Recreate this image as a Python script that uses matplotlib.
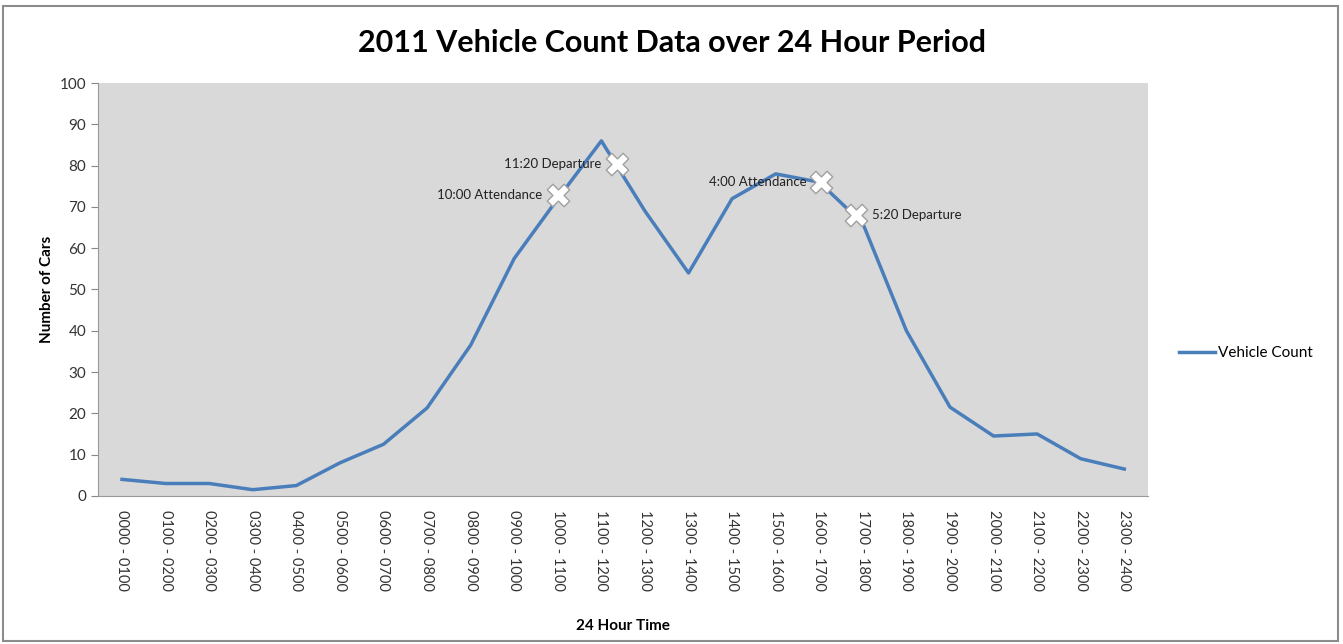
import numpy as np
import matplotlib.pyplot as plt
from matplotlib.patches import Rectangle
from matplotlib.lines import Line2D

plt.rcParams['font.family'] = ['Lato', 'DejaVu Sans']

# data
hours = ['0000 - 0100', '0100 - 0200', '0200 - 0300', '0300 - 0400', '0400 - 0500',
         '0500 - 0600', '0600 - 0700', '0700 - 0800', '0800 - 0900', '0900 - 1000',
         '1000 - 1100', '1100 - 1200', '1200 - 1300', '1300 - 1400', '1400 - 1500',
         '1500 - 1600', '1600 - 1700', '1700 - 1800', '1800 - 1900', '1900 - 2000',
         '2000 - 2100', '2100 - 2200', '2200 - 2300', '2300 - 2400']
counts = [4, 3, 3, 1.5, 2.5, 8, 12.5, 21.3, 36.5, 57.5,
          72, 86, 69, 54, 72, 78, 76, 66, 40, 21.5,
          14.5, 15, 9, 6.5]

# event markers (position in category units, value)
event_labels = ['10:00 Attendance', '11:20 Departure', '4:00 Attendance', '5:20 Departure']
event_x = [10, 11.35, 16.05, 16.85]
event_y = [73, 80.5, 76, 68]

fig = plt.figure(figsize=(13.43, 6.44), dpi=100)
fig.patches.append(Rectangle((0.002, 0.004), 0.994, 0.986, transform=fig.transFigure,
                             fill=False, edgecolor='#8c8c8c', linewidth=1.5))
ax = fig.add_axes([0.073, 0.23, 0.782, 0.641])
ax.set_facecolor('#d9d9d9')

x = np.arange(len(hours))
ax.plot(x, counts, color='#4a7ebb', linewidth=2.5)
ax.scatter(event_x, event_y, marker='X', s=260, facecolor='white',
           edgecolor='#a0a0a0', linewidth=1, zorder=3)
for lab, ex, ey in zip(event_labels, event_x, event_y):
    if lab.startswith('5:20'):
        ax.text(ex + 0.35, ey, lab, ha='left', va='center', fontsize=9.5, color='#222222')
    else:
        ax.text(ex - 0.35, ey, lab, ha='right', va='center', fontsize=9.5, color='#222222')

ax.set_xlim(-0.55, len(hours) - 0.45)
ax.set_ylim(0, 100)
ax.set_yticks(range(0, 101, 10))
ax.set_xticks(x)
ax.set_xticklabels(hours, rotation=270, fontsize=10.5, color='#333333')
ax.tick_params(axis='y', labelsize=11, colors='#333333', length=5, color='#888888')
ax.tick_params(axis='x', length=0, pad=10)
for s in ['top', 'right']:
    ax.spines[s].set_visible(False)
ax.spines['left'].set_color('#999999')
ax.spines['bottom'].set_color('#999999')

ax.set_xlabel('24 Hour Time', fontsize=11, fontweight='bold', labelpad=20)
ax.set_ylabel('Number of Cars', fontsize=11, fontweight='bold', labelpad=4)
fig.suptitle('2011 Vehicle Count Data over 24 Hour Period', fontsize=22, fontweight='bold',
             y=0.955)

handle = Line2D([], [], color='#4a7ebb', linewidth=2.5)
fig.legend([handle], ['Vehicle Count'], loc='center left', bbox_to_anchor=(0.868, 0.452),
           frameon=False, fontsize=11, handlelength=2.3, handletextpad=0.2)

fig.savefig('out.png', dpi=100)
